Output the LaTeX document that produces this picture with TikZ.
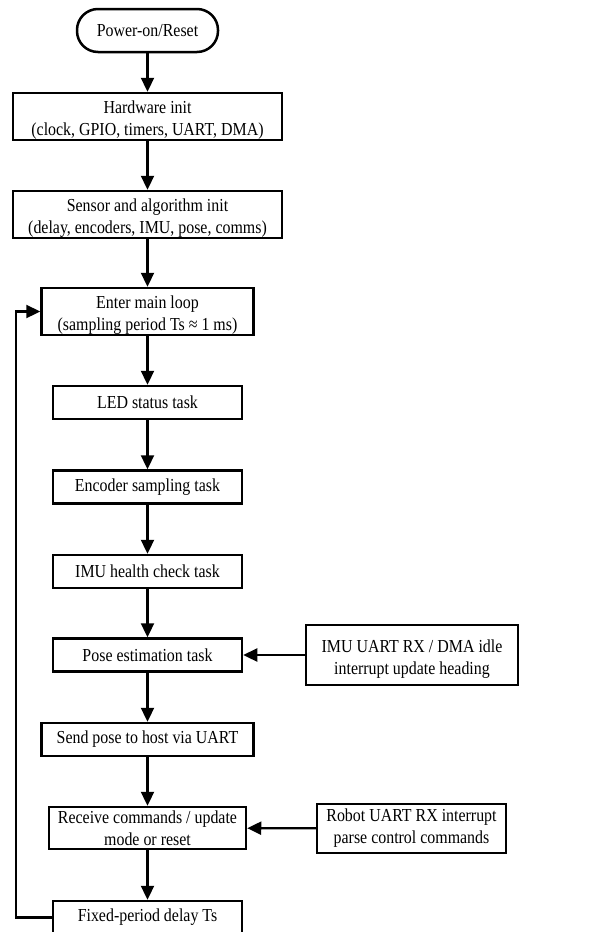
\documentclass[tikz,border=0pt]{standalone}
\usepackage{fontspec}
\setmainfont{Liberation Serif}[FakeStretch=0.87]
\usetikzlibrary{arrows.meta}
\newcommand{\topstrut}{\rule{0pt}{20.5pt}}
\begin{document}
\begin{tikzpicture}[x=1pt,y=-1pt,
  every node/.style={font=\fontsize{18.3}{22}\selectfont, align=center, inner sep=0pt},
  box/.style={draw, line width=2.5pt, rectangle},
  term/.style={draw, line width=2.5pt, rectangle, rounded corners=21pt},
  arr/.style={line width=2.3pt, -{Triangle[length=14pt,width=13pt]}}]
\useasboundingbox (0,0) rectangle (602,932);
\node[term, minimum width=141pt, minimum height=43pt] (start) at (147.5,30.5) {Power-on/Reset};
\node[box, minimum width=269pt, minimum height=47pt] (hw) at (147.5,116.5) {\topstrut Hardware init\\(clock, GPIO, timers, UART, DMA)};
\node[box, minimum width=269pt, minimum height=47pt] (sen) at (147.5,214.5) {\topstrut Sensor and algorithm init\\(delay, encoders, IMU, pose, comms)};
\node[box, minimum width=212pt, minimum height=47pt] (loop) at (147.5,311.5) {\topstrut Enter main loop\\(sampling period Ts ≈ 1 ms)};
\node[box, minimum width=189pt, minimum height=33pt] (led) at (147.5,402.5) {LED status task};
\node[box, minimum width=189pt, minimum height=33pt] (enc) at (147.5,487) {Encoder sampling task};
\node[box, minimum width=189pt, minimum height=33pt] (imuh) at (147.5,571.5) {IMU health check task};
\node[box, minimum width=189pt, minimum height=33pt] (pose) at (147.5,655) {Pose estimation task};
\node[box, minimum width=212pt, minimum height=33pt] (send) at (147.5,739.5) {Send pose to host via UART};
\node[box, minimum width=197pt, minimum height=42pt] (recv) at (147.5,828) {Receive commands / update\\mode or reset};
\node[box, minimum width=189pt, minimum height=33pt] (delay) at (147.5,917.5) {Fixed-period delay Ts};
\node[box, minimum width=212pt, minimum height=60pt] (imu) at (412,655) {\topstrut IMU UART RX / DMA idle\\interrupt update heading};
\node[box, minimum width=189pt, minimum height=49pt] (robot) at (411.5,828.5) {Robot UART RX interrupt\\parse control commands};
\coordinate (lb) at (16,917.5);
\coordinate (lt) at (16,311.5);
\draw[arr] (start) -- (hw);
\draw[arr] (hw) -- (sen);
\draw[arr] (sen) -- (loop);
\draw[arr] (loop) -- (led);
\draw[arr] (led) -- (enc);
\draw[arr] (enc) -- (imuh);
\draw[arr] (imuh) -- (pose);
\draw[arr] (pose) -- (send);
\draw[arr] (send) -- (recv);
\draw[arr] (recv) -- (delay);
\draw[arr] (imu) -- (pose);
\draw[arr] (robot) -- (recv);
\draw[arr] (delay.west) -- (lb) -- (lt) -- (loop.west);
\end{tikzpicture}
\end{document}
